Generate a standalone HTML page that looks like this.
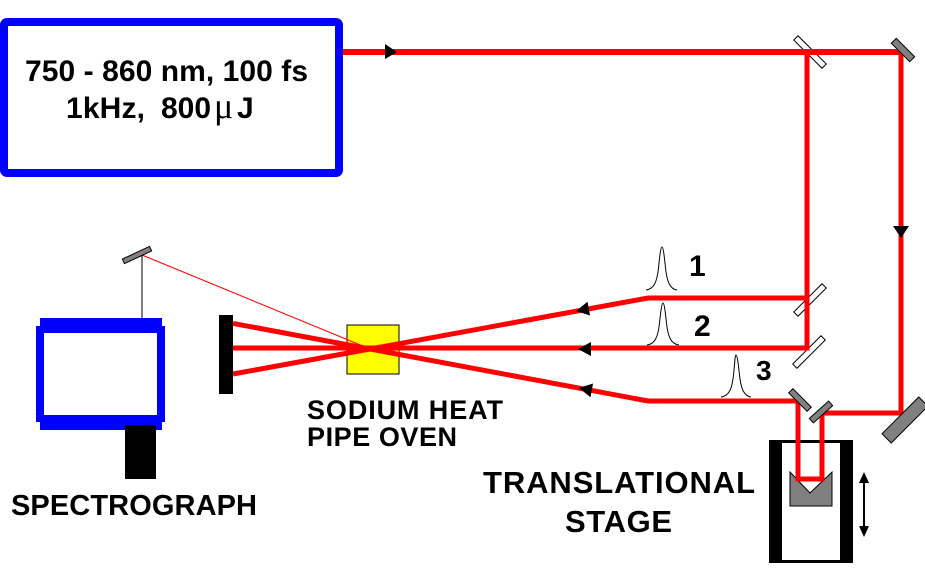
<!DOCTYPE html>
<html>
<head>
<meta charset="utf-8">
<style>
  html, body { margin: 0; padding: 0; background: #fff; }
  svg { display: block; }
  text { font-family: "Liberation Sans", Arial, sans-serif; font-weight: bold; fill: #000; }
</style>
</head>
<body>
<svg width="925" height="582" viewBox="0 0 925 582" xmlns="http://www.w3.org/2000/svg">
  <rect x="0" y="0" width="925" height="582" fill="#fff"/>

  <!-- Laser box -->
  <rect x="4" y="22" width="335" height="151" rx="3" ry="3" fill="#fff" stroke="#0000ff" stroke-width="8"/>
  <text x="25" y="81" font-size="30" textLength="283">750 - 860 nm, 100 fs</text>
  <text x="66" y="118" font-size="30" textLength="79">1kHz,</text>
  <text x="161" y="118" font-size="30">800</text>
  <text x="214" y="118" font-size="36" style="font-family:'Liberation Serif',serif;font-weight:normal">μ</text>
  <text x="237" y="118" font-size="30">J</text>

  <!-- Beamsplitters (white) drawn under beams -->
  <rect x="-20" y="-3" width="40" height="6" fill="#fff" stroke="#000" stroke-width="1" transform="translate(810,52) rotate(45)"/>
  <rect x="-20" y="-3" width="40" height="6" fill="#fff" stroke="#000" stroke-width="1" transform="translate(810,300) rotate(-45)"/>
  <rect x="-20" y="-3" width="40" height="6" fill="#fff" stroke="#000" stroke-width="1" transform="translate(809,352) rotate(-45)"/>

  <!-- Oven -->
  <rect x="347" y="325" width="52" height="49" fill="#ffff00" stroke="#000" stroke-width="1"/>

  <!-- Thin lines -->
  <line x1="142" y1="255" x2="370" y2="349" stroke="#ff0000" stroke-width="1"/>
  <line x1="142" y1="255" x2="142" y2="318" stroke="#000" stroke-width="1"/>

  <!-- Translational stage body -->
  <rect x="769" y="440" width="84" height="123" fill="#000"/>
  <rect x="782" y="443" width="58" height="117" fill="#fff"/>
  <polygon points="790,472 810,493 832,472 832,506 790,506" fill="#808080" stroke="#000" stroke-width="1"/>

  <!-- Beams -->
  <line x1="343" y1="52" x2="903" y2="52" stroke="#ff0000" stroke-width="6"/>
  <path d="M901,52 V413 H822 V479 H798 V401 H648 L370,349 L233,323.4" fill="none" stroke="#ff0000" stroke-width="5" stroke-linejoin="miter"/>
  <path d="M807,50 V348 H233" fill="none" stroke="#ff0000" stroke-width="5"/>
  <path d="M807,298 H648 L370,349 L233,374" fill="none" stroke="#ff0000" stroke-width="5"/>

  <!-- Arrowheads -->
  <polygon points="397,52 385,44 385,59" fill="#000"/>
  <polygon points="901,238 893,226 909,226" fill="#000"/>
  <polygon points="0,0 13,-7 13,7" fill="#000" transform="translate(576,311) rotate(-10.4)"/>
  <polygon points="0,0 13,-7 13,7" fill="#000" transform="translate(578,349)"/>
  <polygon points="0,0 13,-7 13,7" fill="#000" transform="translate(579,388) rotate(10.6)"/>

  <!-- Screen -->
  <rect x="219" y="315" width="14" height="79" fill="#000"/>

  <!-- Gray mirrors -->
  <rect x="-13" y="-3.5" width="26" height="7" fill="#808080" stroke="#000" stroke-width="1" transform="translate(903,50) rotate(45)"/>
  <rect x="-13" y="-3" width="26" height="6" fill="#808080" stroke="#000" stroke-width="1" transform="translate(800,400) rotate(45)"/>
  <rect x="-13" y="-3" width="26" height="6" fill="#808080" stroke="#000" stroke-width="1" transform="translate(821,412) rotate(-42)"/>
  <rect x="-26" y="-6.5" width="52" height="13" fill="#808080" stroke="#000" stroke-width="1" transform="translate(905,420) rotate(-45)"/>
  <rect x="-15" y="-2.5" width="30" height="5" fill="#808080" stroke="#000" stroke-width="1" transform="translate(137,255) rotate(-25)"/>

  <!-- Pulses -->
  <g fill="none" stroke="#000" stroke-width="1">
    <path d="M646,290 C654,289 657,282 658.5,268 C660,253 661,247 662,247 C663,247 664,253 665.5,268 C667,282 670,289 677,290"/>
    <path d="M647,345 C655,344 658,337 659.5,323 C661,309 662,303 663,303 C664,303 665,309 666.5,323 C668,337 671,344 679,345"/>
    <path d="M721,397 C729,396 732,389 733.5,375 C735,361 735,355 736,355 C737,355 738,361 739.5,375 C741,389 744,396 751,397"/>
  </g>

  <!-- Numbers -->
  <text x="689" y="276" font-size="30">1</text>
  <text x="694" y="336" font-size="30">2</text>
  <text x="756" y="380" font-size="28">3</text>

  <!-- Spectrograph -->
  <rect x="40" y="318" width="122" height="112" fill="#0000ff"/>
  <rect x="36" y="326" width="129" height="96" fill="#0000ff"/>
  <rect x="44" y="333" width="113" height="82" fill="#fff"/>
  <rect x="125" y="425" width="31" height="54" fill="#000"/>
  <text x="11" y="515" font-size="29" textLength="246">SPECTROGRAPH</text>

  <!-- Oven labels -->
  <text x="307" y="419" font-size="27" textLength="196">SODIUM HEAT</text>
  <text x="307" y="446" font-size="27" textLength="150">PIPE OVEN</text>

  <!-- Stage arrow & labels -->
  <line x1="864" y1="478" x2="864" y2="531" stroke="#000" stroke-width="2"/>
  <polygon points="864,472 859,483 869,483" fill="#000"/>
  <polygon points="864,537 859,526 869,526" fill="#000"/>
  <text x="483" y="493" font-size="31" textLength="272">TRANSLATIONAL</text>
  <text x="565" y="532" font-size="31" textLength="107">STAGE</text>
</svg>
</body>
</html>
